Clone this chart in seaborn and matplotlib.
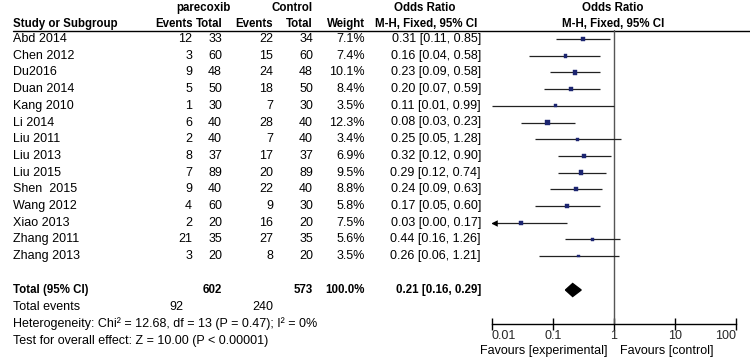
import numpy as np
import pandas as pd
import matplotlib
matplotlib.use('Agg')
import matplotlib.pyplot as plt
import seaborn as sns

sns.set_style('white')
plt.rcParams['font.family'] = ['Liberation Sans', 'DejaVu Sans']

# study level data
studies = ['Abd 2014', 'Chen 2012', 'Du2016', 'Duan 2014', 'Kang 2010', 'Li 2014',
           'Liu 2011', 'Liu 2013', 'Liu 2015', 'Shen  2015', 'Wang 2012', 'Xiao 2013',
           'Zhang 2011', 'Zhang 2013']
exp_events = [12, 3, 9, 5, 1, 6, 2, 8, 7, 9, 4, 2, 21, 3]
exp_total = [33, 60, 48, 50, 30, 40, 40, 37, 89, 40, 60, 20, 35, 20]
ctl_events = [22, 15, 24, 18, 7, 28, 7, 17, 20, 22, 9, 16, 27, 8]
ctl_total = [34, 60, 48, 50, 30, 40, 40, 37, 89, 40, 30, 20, 35, 20]
weight = [7.1, 7.4, 10.1, 8.4, 3.5, 12.3, 3.4, 6.9, 9.5, 8.8, 5.8, 7.5, 5.6, 3.5]
or_est = [0.31, 0.16, 0.23, 0.20, 0.11, 0.08, 0.25, 0.32, 0.29, 0.24, 0.17, 0.03, 0.44, 0.26]
ci_lo = [0.11, 0.04, 0.09, 0.07, 0.01, 0.03, 0.05, 0.12, 0.12, 0.09, 0.05, 0.00, 0.16, 0.06]
ci_hi = [0.85, 0.58, 0.58, 0.59, 0.99, 0.23, 1.28, 0.90, 0.74, 0.63, 0.60, 0.17, 1.26, 1.21]

# pooled result
total_exp, total_ctl = 602, 573
total_weight = 100.0
total_events_exp, total_events_ctl = 92, 240
pooled_or, pooled_lo, pooled_hi = 0.21, 0.16, 0.29
heterogeneity = 'Heterogeneity: Chi\u00b2 = 12.68, df = 13 (P = 0.47); I\u00b2 = 0%'
overall_test = 'Test for overall effect: Z = 10.00 (P < 0.00001)'
axis_ticks = [0.01, 0.1, 1, 10, 100]
axis_labels = ['0.01', '0.1', '1', '10', '100']

df = pd.DataFrame({'study': studies, 'e_ev': exp_events, 'e_tot': exp_total,
                   'c_ev': ctl_events, 'c_tot': ctl_total, 'weight': weight,
                   'or': or_est, 'lo': ci_lo, 'hi': ci_hi})
row0, step = 39, 16.7
df['y'] = row0 + step * np.arange(len(df))
y_total = 290

W, H = 750, 360
fig = plt.figure(figsize=(W / 100, H / 100), dpi=100)
bg = fig.add_axes([0, 0, 1, 1])
bg.set_xlim(0, W)
bg.set_ylim(H, 0)
bg.axis('off')

fs = 9
txt = dict(fontsize=fs, va='center', color='black')
bold = dict(fontsize=8.3, va='center', color='black', fontweight='bold')

# headers
bg.text(203, 8, 'parecoxib', ha='center', **bold)
bg.text(292, 8, 'Control', ha='center', **bold)
bg.text(425, 8, 'Odds Ratio', ha='center', **bold)
bg.text(613, 8, 'Odds Ratio', ha='center', **bold)
bg.text(13, 24, 'Study or Subgroup', ha='left', **bold)
bg.text(193, 24, 'Events', ha='right', **bold)
bg.text(223, 24, 'Total', ha='right', **bold)
bg.text(273, 24, 'Events', ha='right', **bold)
bg.text(313, 24, 'Total', ha='right', **bold)
bg.text(365, 24, 'Weight', ha='right', **bold)
bg.text(426, 24, 'M-H, Fixed, 95% CI', ha='center', **bold)
bg.text(613, 24, 'M-H, Fixed, 95% CI', ha='center', **bold)
bg.plot([13, W], [31, 31], color='black', lw=1.0)

# study rows
for _, r in df.iterrows():
    y = r['y']
    bg.text(13, y, r['study'], ha='left', **txt)
    bg.text(192, y, f"{r['e_ev']}", ha='right', **txt)
    bg.text(222, y, f"{r['e_tot']}", ha='right', **txt)
    bg.text(273, y, f"{r['c_ev']}", ha='right', **txt)
    bg.text(313, y, f"{r['c_tot']}", ha='right', **txt)
    bg.text(365, y, f"{r['weight']:.1f}%", ha='right', **txt)
    bg.text(481, y, f"{r['or']:.2f} [{r['lo']:.2f}, {r['hi']:.2f}]", ha='right', **txt)

# totals
bg.text(13, y_total, 'Total (95% CI)', ha='left', **bold)
bg.text(222, y_total, f'{total_exp}', ha='right', **bold)
bg.text(313, y_total, f'{total_ctl}', ha='right', **bold)
bg.text(365, y_total, f'{total_weight:.1f}%', ha='right', **bold)
bg.text(481, y_total, f'{pooled_or:.2f} [{pooled_lo:.2f}, {pooled_hi:.2f}]', ha='right', **bold)
bg.text(13, y_total + 17, 'Total events', ha='left', **txt)
bg.text(183, y_total + 17, f'{total_events_exp}', ha='right', **txt)
bg.text(273, y_total + 17, f'{total_events_ctl}', ha='right', **txt)
bg.text(13, y_total + 34, heterogeneity, ha='left', **txt)
bg.text(13, y_total + 51, overall_test, ha='left', **txt)

# forest panel
x0, x1, ytop, ybot = 492, 736, 30, 324
ax = fig.add_axes([x0 / W, (H - ybot) / H, (x1 - x0) / W, (ybot - ytop) / H])
ax.set_facecolor('none')
ax.set_xscale('log')
ax.set_xlim(0.01, 100)
ax.set_ylim(ybot, ytop)

lo_clip = df['lo'].clip(lower=0.01)
ax.hlines(df['y'], lo_clip, df['hi'], color='#222222', lw=0.9, zorder=2)
cut = df[df['lo'] < 0.01]
ax.scatter(np.full(len(cut), 0.0108), cut['y'], marker='<', s=22, color='black',
           linewidths=0, zorder=3)
sns.scatterplot(data=df, x='or', y='y', size='weight', sizes=(3.6, 13),
                size_norm=(min(weight), max(weight)), marker='s', color='#1c2570',
                edgecolor='#1c2570', linewidth=0.3, legend=False, ax=ax, zorder=4)

dh = 6.5
ax.fill([pooled_lo, pooled_or, pooled_hi, pooled_or],
        [y_total, y_total - dh, y_total, y_total + dh], color='black', zorder=4)
ax.axvline(1, color='#555555', lw=1.0, zorder=1)

for s in ['left', 'right', 'top']:
    ax.spines[s].set_visible(False)
ax.spines['bottom'].set_color('black')
ax.spines['bottom'].set_linewidth(1.0)
ax.set_yticks([])
ax.set_xticks(axis_ticks)
ax.set_xticklabels(axis_labels, fontsize=fs)
ax.minorticks_off()
ax.tick_params(axis='x', direction='inout', length=9, width=1.0, color='black', pad=0,
               bottom=True)
labs = ax.get_xticklabels()
labs[0].set_ha('left')
labs[-1].set_ha('right')
ax.set_xlabel('')
ax.set_ylabel('')

bg.text(608, 351, 'Favours [experimental]', ha='right', **txt)
bg.text(620, 351, 'Favours [control]', ha='left', **txt)

fig.savefig('out.png', dpi=100, facecolor='white')
